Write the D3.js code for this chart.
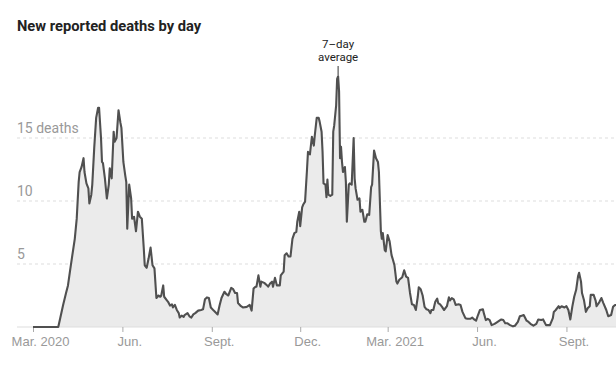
<!DOCTYPE html>
<html>
<head>
<meta charset="utf-8">
<script src="https://cdn.jsdelivr.net/npm/d3@7"></script>
<style>
  body { margin: 0; background: #fff; }
  svg { display: block; font-family: Roboto, "Liberation Sans", sans-serif; }
  .grid line { stroke: #ddd; stroke-dasharray: 3,3; }
  .xaxis text { fill: #999; font-size: 13px; }
  .xaxis line { stroke: #aaa; }
  .ylabel { fill: #999; font-size: 14px; }
</style>
</head>
<body>
<svg width="616" height="386"></svg>
<script>
// 7-day average of new reported deaths
const dates = [
  "2020-03-01","2020-03-27","2020-03-29","2020-04-01","2020-04-04","2020-04-06","2020-04-08","2020-04-10",
  "2020-04-13","2020-04-15","2020-04-17","2020-04-18","2020-04-20","2020-04-22","2020-04-23","2020-04-25",
  "2020-04-27","2020-04-28","2020-04-30","2020-05-01","2020-05-03","2020-05-05","2020-05-07","2020-05-08",
  "2020-05-10","2020-05-11","2020-05-12","2020-05-14","2020-05-16","2020-05-18","2020-05-19","2020-05-21",
  "2020-05-23","2020-05-24","2020-05-26","2020-05-28","2020-05-30","2020-05-31","2020-06-02","2020-06-04",
  "2020-06-05","2020-06-06","2020-06-08","2020-06-10","2020-06-11","2020-06-13","2020-06-15","2020-06-17",
  "2020-06-19","2020-06-21","2020-06-23","2020-06-24","2020-06-26","2020-06-28","2020-06-30","2020-07-02",
  "2020-07-04","2020-07-06","2020-07-08","2020-07-10","2020-07-11","2020-07-13","2020-07-14","2020-07-17",
  "2020-07-18","2020-07-20","2020-07-22","2020-07-23","2020-07-25","2020-07-27","2020-07-29","2020-07-30",
  "2020-08-01","2020-08-03","2020-08-04","2020-08-07","2020-08-09","2020-08-11","2020-08-13","2020-08-15",
  "2020-08-18","2020-08-21","2020-08-23","2020-08-25","2020-08-27","2020-08-29","2020-08-31","2020-09-03",
  "2020-09-05","2020-09-07","2020-09-09","2020-09-11","2020-09-14","2020-09-16","2020-09-18","2020-09-21",
  "2020-09-23","2020-09-25","2020-09-27","2020-09-28","2020-10-01","2020-10-03","2020-10-07","2020-10-10",
  "2020-10-12","2020-10-14","2020-10-16","2020-10-17","2020-10-19","2020-10-21","2020-10-22","2020-10-25",
  "2020-10-28","2020-10-29","2020-10-31","2020-11-02","2020-11-03","2020-11-05","2020-11-07","2020-11-10",
  "2020-11-11","2020-11-14","2020-11-15","2020-11-17","2020-11-19","2020-11-21","2020-11-23","2020-11-25",
  "2020-11-27","2020-11-28","2020-11-30","2020-12-01","2020-12-03","2020-12-04","2020-12-06","2020-12-08",
  "2020-12-09","2020-12-11","2020-12-13","2020-12-15","2020-12-16","2020-12-18","2020-12-20","2020-12-21",
  "2020-12-23","2020-12-24","2020-12-25","2020-12-27","2020-12-28","2020-12-29","2020-12-30","2021-01-01",
  "2021-01-03","2021-01-04","2021-01-05","2021-01-07","2021-01-08","2021-01-09","2021-01-10","2021-01-11",
  "2021-01-12","2021-01-13","2021-01-14","2021-01-16","2021-01-17","2021-01-18","2021-01-20","2021-01-21",
  "2021-01-23","2021-01-25","2021-01-26","2021-01-27","2021-01-29","2021-01-31","2021-02-01","2021-02-03",
  "2021-02-05","2021-02-06","2021-02-08","2021-02-10","2021-02-12","2021-02-13","2021-02-15","2021-02-17",
  "2021-02-19","2021-02-20","2021-02-22","2021-02-23","2021-02-24","2021-02-26","2021-02-27","2021-03-01",
  "2021-03-03","2021-03-05","2021-03-06","2021-03-08","2021-03-10","2021-03-11","2021-03-13","2021-03-16",
  "2021-03-18","2021-03-20","2021-03-22","2021-03-24","2021-03-26","2021-03-28","2021-03-30","2021-04-01",
  "2021-04-02","2021-04-04","2021-04-06","2021-04-08","2021-04-10","2021-04-12","2021-04-14","2021-04-15",
  "2021-04-17","2021-04-19","2021-04-21","2021-04-22","2021-04-24","2021-04-26","2021-04-28","2021-05-01",
  "2021-05-03","2021-05-04","2021-05-06","2021-05-08","2021-05-10","2021-05-13","2021-05-15","2021-05-17",
  "2021-05-20","2021-05-22","2021-05-25","2021-05-27","2021-05-29","2021-05-31","2021-06-02","2021-06-04",
  "2021-06-07","2021-06-08","2021-06-10","2021-06-12","2021-06-14","2021-06-16","2021-06-19","2021-06-21",
  "2021-06-24","2021-06-26","2021-06-28","2021-06-30","2021-07-02","2021-07-05","2021-07-08","2021-07-10",
  "2021-07-13","2021-07-15","2021-07-17","2021-07-19","2021-07-22","2021-07-24","2021-07-26","2021-07-29",
  "2021-08-01","2021-08-03","2021-08-06","2021-08-08","2021-08-11","2021-08-13","2021-08-15","2021-08-18",
  "2021-08-19","2021-08-21","2021-08-24","2021-08-25","2021-08-27","2021-08-30","2021-09-01","2021-09-03",
  "2021-09-05","2021-09-07","2021-09-09","2021-09-11","2021-09-13","2021-09-14","2021-09-16","2021-09-17",
  "2021-09-19","2021-09-21","2021-09-23","2021-09-25","2021-09-26","2021-09-29","2021-10-01","2021-10-02",
  "2021-10-05","2021-10-07","2021-10-09","2021-10-12","2021-10-14","2021-10-17","2021-10-19","2021-10-21",
  "2021-10-22"
];
const deaths = [
  0, 0, 0.7, 1.75, 2.7, 3.3, 4.4, 5.45,
  7.0, 8.6, 11.5, 12.3, 12.7, 13.4, 12.3, 11.4,
  11.0, 9.8, 10.5, 11.3, 14.2, 16.6, 17.4, 17.4,
  15.0, 13.1, 13.0, 11.8, 10.2, 11.3, 12.6, 11.8,
  15.5, 14.7, 15.0, 17.2, 16.2, 15.8, 13.1, 12.0,
  11.5, 7.8, 11.3, 10.2, 8.6, 8.75, 7.6, 9.15,
  8.75, 8.6, 6.25, 4.9, 4.7, 5.45, 6.3, 4.9,
  4.65, 2.3, 2.5, 2.4, 2.5, 3.3, 2.4, 2.1,
  2.0, 1.7, 1.8, 1.55, 1.75, 1.35, 1.1, 0.75,
  0.9, 0.8, 0.95, 1.1, 0.85, 0.75, 1.0, 1.1,
  1.3, 1.35, 1.4, 2.2, 2.35, 2.3, 1.55, 1.3,
  1.15, 1.0, 1.7, 2.3, 2.8, 2.6, 2.5, 3.1,
  3.0, 2.7, 2.7, 1.9, 1.65, 1.55, 1.6, 1.75,
  1.3, 3.05, 3.2, 3.2, 4.1, 3.2, 3.6, 3.5,
  3.3, 3.2, 3.45, 3.6, 3.2, 3.9, 3.3, 3.3,
  4.1, 4.4, 5.7, 5.85, 5.6, 5.6, 7.0, 7.45,
  7.55, 8.35, 9.15, 8.0, 9.5, 9.7, 9.95, 12.5,
  13.9, 13.7, 15.1, 14.4, 15.2, 16.6, 16.6, 16.3,
  15.5, 13.9, 11.4, 11.3, 10.3, 11.7, 10.5, 10.4,
  10.5, 15.5, 16.0, 17.6, 19.7, 19.9, 18.7, 13.4,
  14.3, 13.1, 12.3, 12.7, 11.5, 8.35, 11.3, 11.4,
  11.3, 15.0, 11.8, 11.0, 10.1, 10.2, 9.15, 9.3,
  8.35, 8.35, 8.95, 8.9, 11.1, 11.3, 14.0, 13.4,
  13.1, 12.3, 7.6, 7.0, 7.45, 6.1, 6.0, 7.3,
  6.8, 5.7, 5.45, 4.9, 3.6, 3.45, 3.75, 3.95,
  4.5, 4.0, 3.9, 2.7, 1.8, 1.75, 1.35, 2.4,
  3.15, 3.0, 2.5, 1.6, 1.4, 1.35, 1.1, 1.35,
  1.35, 2.0, 2.25, 1.9, 1.8, 1.6, 1.35, 1.65,
  2.35, 2.1, 2.3, 2.2, 1.75, 1.8, 1.75, 1.2,
  0.7, 0.65, 0.65, 0.75, 0.6, 0.5, 0.95, 1.35,
  1.4, 1.1, 0.55, 0.65, 0.55, 0.15, 0.25, 0.35,
  0.5, 0.6, 0.55, 0.3, 0.3, 0.15, 0.05, 0.1,
  0.4, 0.85, 0.9, 0.95, 0.5, 0.4, 0.25, 0.1,
  0.25, 0.6, 0.55, 0.6, 0.15, 0.15, 0.15, 0.7,
  1.2, 1.35, 1.65, 1.5, 1.65, 1.55, 1.65, 1.35,
  0.6, 1.6, 2.4, 2.95, 4.05, 4.3, 3.6, 2.7,
  2.15, 1.2, 1.5, 1.65, 2.55, 2.55, 2.1, 1.65,
  2.0, 2.3, 1.9, 1.35, 0.85, 0.95, 1.6, 1.75,
  1.75
];

const tickDates = ["2020-03-01","2020-06-01","2020-09-01","2020-12-01","2021-03-01","2021-06-01","2021-09-01"];
const tickLabels = ["Mar. 2020","Jun.","Sept.","Dec.","Mar. 2021","Jun.","Sept."];
const yTicks = [5, 10, 15];
const yLabels = ["5", "10", "15 deaths"];

const parse = d3.utcParse("%Y-%m-%d");
const data = dates.map((d, i) => ({ date: parse(d), value: deaths[i] }));

const svg = d3.select("svg");
const left = 17, right = 616;

const x = d3.scaleUtc()
  .domain([parse("2020-03-01"), parse("2021-10-22")])
  .range([33, 616]);
const y = d3.scaleLinear()
  .domain([0, 20])
  .range([327, 75]);

// title
svg.append("text")
  .attr("x", left)
  .attr("y", 31)
  .attr("fill", "#222")
  .attr("font-size", 14.7)
  .attr("font-weight", 700)
  .text("New reported deaths by day");

// dashed gridlines
svg.append("g").attr("class", "grid")
  .selectAll("line")
  .data(yTicks)
  .join("line")
  .attr("x1", left).attr("x2", right)
  .attr("y1", d => y(d)).attr("y2", d => y(d));

svg.append("g")
  .selectAll("text")
  .data(yTicks)
  .join("text")
  .attr("class", "ylabel")
  .attr("x", left)
  .attr("y", d => y(d) - 5)
  .text((d, i) => yLabels[i]);

// area + line
const area = d3.area()
  .x(d => x(d.date))
  .y0(y(0))
  .y1(d => y(d.value));
const line = d3.line()
  .x(d => x(d.date))
  .y(d => y(d.value));

svg.append("path")
  .datum(data)
  .attr("d", area)
  .attr("fill", "#ebebeb");

svg.append("line")
  .attr("x1", left).attr("x2", right)
  .attr("y1", y(0)).attr("y2", y(0))
  .attr("stroke", "#ddd");

// x axis, labels sit a little right of their ticks
const xAxis = d3.axisBottom(x)
  .tickValues(tickDates.map(parse))
  .tickFormat((d, i) => tickLabels[i])
  .tickSize(5)
  .tickPadding(5);

svg.append("g")
  .attr("class", "xaxis")
  .attr("transform", `translate(0,${y(0)})`)
  .call(xAxis)
  .call(g => g.select(".domain").remove())
  .call(g => g.selectAll("text")
    .attr("font-family", null)
    .attr("font-size", null)
    .attr("dx", 7));

svg.append("path")
  .datum(data)
  .attr("d", line)
  .attr("fill", "none")
  .attr("stroke", "#505050")
  .attr("stroke-width", 2.1)
  .attr("stroke-linejoin", "round");

// annotation on the winter peak
const peak = data.reduce((a, b) => (b.value > a.value ? b : a));
const px = x(peak.date);
svg.append("line")
  .attr("x1", px).attr("x2", px)
  .attr("y1", 66).attr("y2", y(peak.value) - 1)
  .attr("stroke", "#333");
const note = svg.append("text")
  .attr("x", px)
  .attr("text-anchor", "middle")
  .attr("fill", "#222")
  .attr("font-size", 11.5);
note.append("tspan").attr("x", px).attr("y", 48).text("7\u2013day");
note.append("tspan").attr("x", px).attr("y", 61).text("average");
</script>
</body>
</html>
